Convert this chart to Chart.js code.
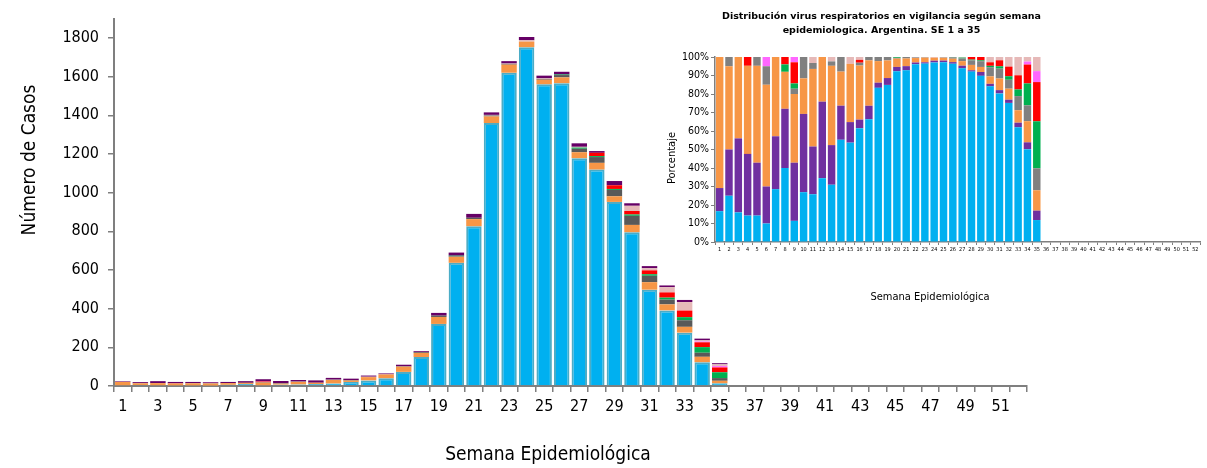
<!DOCTYPE html>
<html>
<head>
<meta charset="utf-8">
<script src="https://cdn.jsdelivr.net/npm/chart.js@4.4.1/dist/chart.umd.min.js"></script>
<style>
  html, body { margin: 0; padding: 0; background: #ffffff; }
  #wrap { position: relative; width: 1207px; height: 468px; overflow: hidden; background: #ffffff; }
  #main { position: absolute; left: 0; top: 0; }
  #inset { position: absolute; left: 563px; top: 0; }
</style>
</head>
<body>
<div id="wrap">
  <canvas id="main" width="1207" height="468"></canvas>
  <canvas id="inset" width="644" height="320"></canvas>
</div>
<script>
// Semanas epidemiológicas (categorías del eje X)
const semanas = ['1','2','3','4','5','6','7','8','9','10','11','12','13','14','15','16','17','18',
  '19','20','21','22','23','24','25','26','27','28','29','30','31','32','33','34','35','36',
  '37','38','39','40','41','42','43','44','45','46','47','48','49','50','51','52'];

// Marcas del eje de casos y del eje de porcentaje
const ticksCasos = [0, 200, 400, 600, 800, 1000, 1200, 1400, 1600, 1800];
const ticksPorcentaje = [0, 10, 20, 30, 40, 50, 60, 70, 80, 90, 100];

// Casos por semana (SE 1 a 35) para cada virus
const celeste = [4, 5, 4, 3, 3, 2, 6, 10, 4, 7, 8, 10, 13, 21, 29, 40, 73, 150, 321, 637, 826, 1360,
  1620, 1752, 1560, 1566, 1178, 1119, 952, 795, 498, 391, 276, 123, 14];
const violeta = [3, 5, 10, 7, 6, 4, 6, 8, 11, 11, 8, 12, 9, 7, 6, 3, 8, 5, 14, 16, 20, 13,
  12, 17, 14, 14, 18, 9, 22, 13, 11, 9, 11, 9, 6];
const naranja = [17, 9, 11, 10, 11, 11, 9, 5, 13, 5, 13, 7, 18, 7, 17, 19, 27, 21, 36, 31, 37, 34,
  42, 29, 24, 30, 31, 35, 29, 38, 39, 31, 30, 28, 13];
const gris = [0, 1, 0, 0, 1, 2, 0, 0, 1, 3, 1, 0, 1, 3, 0, 1, 2, 4, 7, 3, 7, 5,
  4, 0, 4, 12, 18, 30, 33, 47, 33, 25, 34, 21, 14];
const verde = [0, 0, 0, 0, 0, 0, 0, 1, 1, 0, 0, 0, 0, 0, 0, 0, 0, 0, 0, 3, 0, 0,
  0, 0, 0, 3, 6, 5, 5, 7, 8, 10, 16, 29, 30];
const rojo = [0, 0, 0, 1, 0, 0, 0, 1, 4, 0, 0, 0, 0, 0, 0, 1, 0, 0, 0, 0, 0, 0,
  0, 0, 0, 0, 0, 17, 19, 18, 20, 27, 34, 25, 25];
const fucsia = [0, 0, 0, 0, 0, 1, 0, 0, 1, 0, 0, 0, 0, 0, 0, 0, 0, 0, 0, 0, 0, 0,
  0, 0, 0, 0, 0, 0, 0, 0, 0, 0, 0, 4, 7];
const rosa = [0, 0, 0, 0, 0, 0, 0, 0, 0, 0, 1, 0, 1, 0, 2, 1, 0, 0, 0, 0, 0, 3,
  2, 7, 3, 0, 4, 0, 0, 27, 11, 27, 44, 6, 9];

const FAMILY = "'DejaVu Sans Condensed', 'DejaVu Sans', sans-serif";

// Textos libres (títulos de ejes) ubicados en el lienzo
const captions = {
  id: 'captions',
  afterDraw(chart, args, opts) {
    const ctx = chart.ctx;
    (opts.items || []).forEach(it => {
      ctx.save();
      ctx.font = it.font;
      ctx.fillStyle = it.color || '#000';
      ctx.textAlign = 'center';
      ctx.textBaseline = 'middle';
      ctx.translate(it.x, it.y);
      if (it.rotate) ctx.rotate(it.rotate);
      ctx.fillText(it.text, 0, 0);
      ctx.restore();
    });
  }
};

function serie(label, data, color, extra) {
  return Object.assign({
    label, data, backgroundColor: color, borderWidth: 0
  }, extra || {});
}

// ---------- Gráfico principal: número de casos ----------
new Chart(document.getElementById('main'), {
  type: 'bar',
  data: {
    labels: semanas,
    datasets: [
      serie('celeste', celeste, '#00b0f0', { borderColor: '#4bacc6', borderWidth: 2 }),
      serie('naranja', naranja, '#f79646'),
      serie('gris', gris, '#595959'),
      serie('verde', verde, '#00b050'),
      serie('rojo', rojo, '#ff0000'),
      serie('fucsia', fucsia, '#ff66ff'),
      serie('rosa', rosa, '#e6b9b8'),
      serie('violeta', violeta, '#660066')
    ].map(d => Object.assign(d, { barPercentage: 0.88, categoryPercentage: 1, clip: false }))
  },
  options: {
    responsive: false,
    animation: false,
    devicePixelRatio: 1,
    layout: { padding: { top: 10, right: 180, left: 0, bottom: 0 } },
    plugins: {
      legend: { display: false },
      tooltip: { enabled: false },
      captions: {
        items: [
          { text: 'Número de Casos', x: 30, y: 160, rotate: -Math.PI / 2, font: '19px ' + FAMILY },
          { text: 'Semana Epidemiológica', x: 548, y: 455, font: '19px ' + FAMILY }
        ]
      }
    },
    scales: {
      x: {
        stacked: true,
        grid: { drawOnChartArea: false, tickLength: 6, color: '#7f7f7f', lineWidth: 1.5, offset: true },
        border: { color: '#7f7f7f', width: 2 },
        ticks: {
          autoSkip: false, maxRotation: 0, minRotation: 0, padding: 5,
          color: '#000', font: { family: FAMILY, size: 16 },
          callback: (v, i) => (i % 2 === 0 ? semanas[i] : '')
        },
        afterFit(scale) { scale.height = 82; }
      },
      y: {
        stacked: true, min: 0, max: 1900,
        afterBuildTicks(scale) { scale.ticks = ticksCasos.map(v => ({ value: v })); },
        grid: { drawOnChartArea: false, tickLength: 6, color: '#7f7f7f', lineWidth: 1.5 },
        border: { color: '#7f7f7f', width: 2 },
        ticks: {
          padding: 9, color: '#000', font: { family: FAMILY, size: 16 },
          callback: v => String(v)
        },
        afterFit(scale) { scale.width = 114; }
      }
    }
  },
  plugins: [captions]
});

// ---------- Gráfico insertado: distribución porcentual ----------
const totales = celeste.map((v, i) =>
  v + violeta[i] + naranja[i] + gris[i] + verde[i] + rojo[i] + fucsia[i] + rosa[i]);
const pct = arr => arr.map((v, i) => (totales[i] ? (v / totales[i]) * 100 : 0));

new Chart(document.getElementById('inset'), {
  type: 'bar',
  data: {
    labels: semanas,
    datasets: [
      serie('celeste', pct(celeste), '#00b0f0'),
      serie('violeta', pct(violeta), '#7030a0'),
      serie('naranja', pct(naranja), '#f79646'),
      serie('gris', pct(gris), '#808080'),
      serie('verde', pct(verde), '#00b050'),
      serie('rojo', pct(rojo), '#ff0000'),
      serie('fucsia', pct(fucsia), '#ff66ff'),
      serie('rosa', pct(rosa), '#e6b9b8')
    ].map(d => Object.assign(d, { barPercentage: 0.8, categoryPercentage: 1 }))
  },
  options: {
    responsive: false,
    animation: false,
    devicePixelRatio: 1,
    layout: { padding: { top: 0, right: 7, left: 0, bottom: 0 } },
    plugins: {
      legend: { display: false },
      tooltip: { enabled: false },
      title: {
        display: true,
        text: ['Distribución virus respiratorios en vigilancia según semana',
               'epidemiologica. Argentina. SE 1 a 35'],
        color: '#000',
        font: { family: "'DejaVu Sans', sans-serif", size: 9.5, weight: 'bold', lineHeight: 1.474 },
        padding: { top: 10, bottom: 19 }
      },
      captions: {
        items: [
          { text: 'Porcentaje', x: 109, y: 158, rotate: -Math.PI / 2, font: '11px ' + FAMILY },
          { text: 'Semana Epidemiológica', x: 367, y: 297, font: '11px ' + FAMILY }
        ]
      }
    },
    scales: {
      x: {
        stacked: true,
        grid: { drawOnChartArea: false, tickLength: 3, color: '#7f7f7f', lineWidth: 1, offset: true },
        border: { color: '#7f7f7f', width: 1.5 },
        ticks: {
          autoSkip: false, maxRotation: 0, minRotation: 0, padding: 1,
          color: '#000', font: { family: FAMILY, size: 5.5 }
        },
        afterFit(scale) { scale.height = 78; }
      },
      y: {
        stacked: true, min: 0, max: 100,
        afterBuildTicks(scale) { scale.ticks = ticksPorcentaje.map(v => ({ value: v })); },
        grid: { drawOnChartArea: false, tickLength: 4, color: '#7f7f7f', lineWidth: 1 },
        border: { color: '#7f7f7f', width: 1.5 },
        ticks: { padding: 2, color: '#000', font: { family: FAMILY, size: 10.5 }, callback: v => v + '%' },
        afterFit(scale) { scale.width = 152; }
      }
    }
  },
  plugins: [captions]
});
</script>
</body>
</html>
